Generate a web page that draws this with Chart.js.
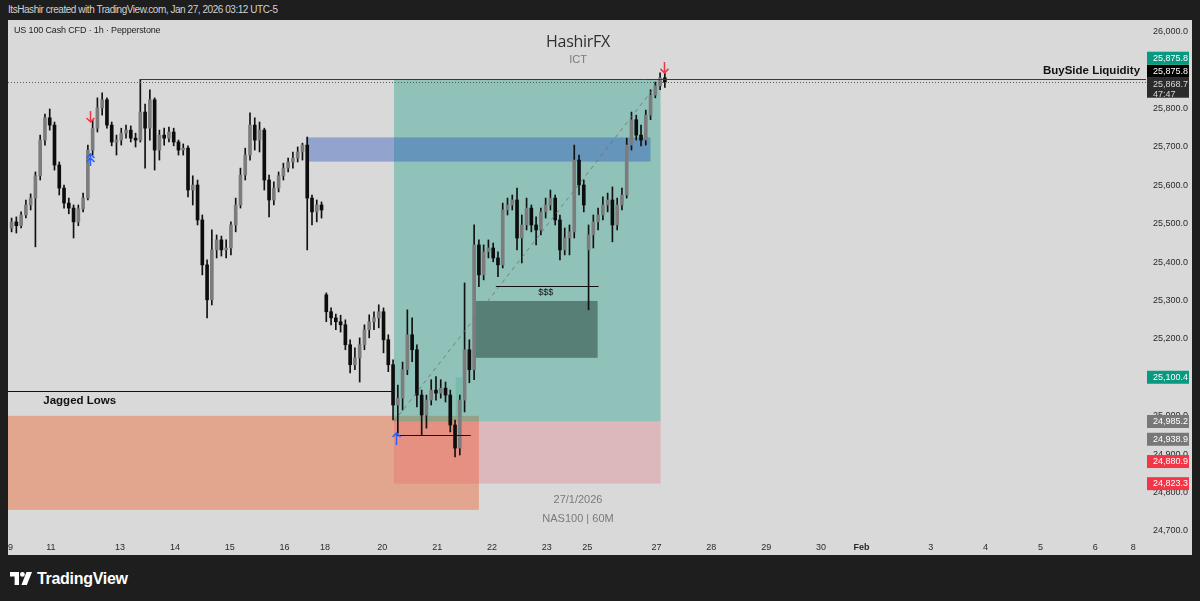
<!DOCTYPE html>
<html lang="en">
<head>
<meta charset="UTF-8">
<title>US 100 Cash CFD - HashirFX</title>
<script src="https://cdn.jsdelivr.net/npm/chart.js"></script>
<style>
  body { margin: 0; width: 1200px; height: 601px; background: #1e1e1e; overflow: hidden; position: relative;
         font-family: "Liberation Sans", Arial, sans-serif; }
  #top { position: absolute; left: 8px; top: 4px; color: #d2d2d2; font-size: 10px; letter-spacing: -0.45px; }
  #panel { position: absolute; left: 8px; top: 20px; width: 1184px; height: 535px; background: #d9d9d9; }
  #symbol { position: absolute; left: 6px; top: 5px; font-size: 9px; letter-spacing: -0.15px; color: #1e1e1e; z-index: 2; }
  .wm { position: absolute; left: 420px; width: 300px; text-align: center; color: #7a7a7a; font-size: 11px; }
  #title { top: 10px; font-size: 16px; color: #2f2f2f; font-family: "Open Sans", sans-serif; letter-spacing: -0.3px; }
  #footer { position: absolute; left: 10px; top: 570px; color: #fff; font-size: 16px; font-weight: bold;
            letter-spacing: -0.3px; display: flex; align-items: center; gap: 5px; }
  canvas { position: absolute; left: 0; top: 0; }
</style>
</head>
<body>
<div id="top">ItsHashir created with TradingView.com, Jan 27, 2026 03:12 UTC-5</div>
<div id="panel">
  <canvas id="chart" width="1184" height="535"></canvas>
  <div id="symbol">US 100 Cash CFD · 1h · Pepperstone</div>
  <div class="wm" id="title">HashirFX</div>
  <div class="wm" style="top:33px">ICT</div>
  <div class="wm" style="top:473px">27/1/2026</div>
  <div class="wm" style="top:492px">NAS100 | 60M</div>
</div>
<div id="footer">
  <svg width="22" height="14" viewBox="0 0 22 14"><path d="M0 0h9v13H4.6V4.4H0z" fill="#fff"/><circle cx="12.4" cy="2.4" r="2.4" fill="#fff"/><path d="M16.5 0h5.5l-5.2 13h-5.4z" fill="#fff"/></svg>
  <span>TradingView</span>
</div>
<script>
// 2h candles, Jan 9 00:00 -> Jan 27 03:00 (session hours only)
var opens = [25489,25505,25495,25523,25549,25567,25625,25718,25776,25757,
  25653,25593,25554,25541,25505,25539,25567,25692,25749,25802,
  25823,25757,25713,25718,25736,25744,25723,25718,25791,25749,
  25823,25692,25731,25723,25739,25713,25692,25697,25588,25601,
  25510,25393,25302,25432,25458,25432,25437,25497,25549,25627,
  25679,25757,25718,25744,25614,25562,25593,25625,25645,25661,
  25671,25687,25705,25567,25531,25549,25315,25271,25255,25245,
  25237,25185,25133,25151,25185,25224,25245,25255,25271,25198,
  25133,25028,25046,25120,25211,25172,25054,25002,25041,25067,
  25059,25072,25054,24976,24916,25041,25172,25120,25445,25367,
  25427,25437,25411,25393,25536,25549,25562,25463,25497,25541,
  25497,25484,25531,25549,25567,25510,25432,25463,25479,25666,
  25601,25432,25471,25505,25523,25549,25562,25497,25549,25575,
  25705,25771,25731,25718,25783,25835,25859,25880];
var highs = [25515,25518,25531,25562,25578,25635,25731,25786,25799,25765,
  25661,25601,25567,25549,25549,25580,25705,25770,25828,25841,
  25828,25765,25731,25749,25757,25755,25736,25876,25812,25849,
  25828,25744,25749,25752,25749,25718,25708,25703,25625,25614,
  25523,25406,25484,25471,25468,25458,25505,25567,25645,25697,
  25789,25776,25765,25749,25627,25609,25635,25658,25671,25687,
  25700,25710,25726,25575,25562,25557,25320,25281,25265,25262,
  25250,25198,25177,25203,25237,25263,25271,25289,25281,25211,
  25146,25080,25140,25276,25255,25185,25067,25054,25094,25102,
  25094,25088,25067,24989,25054,25346,25198,25497,25458,25445,
  25458,25450,25427,25554,25567,25575,25593,25523,25567,25549,
  25518,25541,25567,25588,25575,25523,25489,25497,25705,25679,
  25614,25497,25523,25541,25570,25580,25596,25567,25593,25723,
  25791,25783,25757,25796,25849,25869,25893,25893];
var lows = [25479,25476,25489,25515,25536,25440,25614,25705,25744,25640,
  25575,25541,25526,25463,25495,25531,25562,25679,25739,25783,
  25749,25703,25679,25705,25723,25713,25700,25713,25645,25718,
  25640,25666,25705,25713,25703,25679,25679,25570,25549,25497,
  25367,25255,25289,25411,25416,25411,25419,25479,25541,25614,
  25666,25692,25687,25588,25518,25549,25583,25614,25635,25645,
  25661,25666,25432,25497,25505,25515,25245,25237,25224,25218,
  25172,25112,25120,25088,25172,25203,25224,25229,25164,25115,
  24989,24955,25015,25107,25141,25023,24950,24968,25028,25041,
  25046,25036,24958,24893,24898,25010,25086,25094,25336,25354,
  25411,25401,25362,25385,25523,25536,25432,25398,25484,25479,
  25445,25471,25515,25536,25497,25406,25419,25419,25463,25575,
  25531,25276,25437,25484,25510,25531,25453,25484,25536,25567,
  25692,25718,25703,25705,25771,25828,25849,25855];
var closes = [25505,25495,25523,25549,25567,25625,25718,25776,25757,25653,
  25593,25554,25541,25505,25539,25567,25692,25749,25802,25823,
  25757,25713,25718,25736,25744,25723,25718,25791,25749,25823,
  25692,25731,25723,25739,25713,25692,25697,25588,25601,25510,
  25393,25302,25432,25458,25432,25437,25497,25549,25627,25679,
  25757,25718,25744,25614,25562,25593,25625,25645,25661,25671,
  25687,25705,25567,25531,25549,25536,25271,25255,25245,25237,
  25185,25133,25151,25185,25224,25245,25255,25271,25198,25133,
  25028,25046,25120,25211,25172,25054,25002,25041,25067,25059,
  25072,25054,24976,24916,25041,25172,25120,25445,25367,25427,
  25437,25411,25393,25536,25549,25562,25463,25497,25541,25497,
  25484,25531,25549,25567,25510,25432,25463,25479,25666,25601,
  25549,25471,25505,25523,25549,25562,25497,25549,25575,25705,
  25771,25731,25718,25783,25835,25859,25880,25868.7];

// time axis: session hour of each day label
var dayHours = [0,17,46,69,92,115,132,156,179,202,225,242,271,294,317,340,357,386,409,432,455,471];
var dayLabels = ['9','11','13','14','15','16','18','20','21','22','23','25','27','28','29','30','Feb','3','4','5','6','8'];
var priceTicks = [24700,24800,24900,25000,25100,25200,25300,25400,25500,25600,25700,25800,25900,26000];

// drawn zones: orange, target, stop, small fvg, blue block, dark block
var zoneStart  = [-1, 160.9, 160.9, 186.8, 124, 194.4];
var zoneEnd    = [196.5, 272.7, 272.7, 189.5, 268.5, 246.3];
var zoneTop    = [25000, 25875.8, 24985.2, 25100.4, 25725, 25299];
var zoneBottom = [24755, 24985.2, 24823.3, 24997, 25662, 25151];
var zoneColors = ['rgba(240,90,30,0.4)', 'rgba(8,153,129,0.35)', 'rgba(242,54,69,0.2)',
                  'rgba(8,153,129,0.18)', 'rgba(41,82,190,0.4)', 'rgba(30,60,50,0.5)'];

// horizontal levels: jagged lows, sweep, $$$, buyside liquidity
var levelPrices = [25064, 24950, 25338, 25875.8];
var levelStart  = [-1, 161.7, 203.6, 54.5];
var levelEnd    = [160.5, 193.1, 246.7, 476.3];

var entryPrice = 24985.2, targetPrice = 25875.8, lastPrice = 25868.7;

var markerHours  = [33.5, 33.5, 161.7, 274.3];
var markerPrices = [25765, 25682, 24955, 25893];
var markerKinds  = ['down', 'up2', 'up', 'down'];

// price scale tags
var tagPrices = [25100.4, 24985.2, 24938.9, 24880.9, 24823.3];
var tagColors = ['#089981', '#787878', '#787878', '#f23645', '#f23645'];

var fmt = function (v) { return v.toLocaleString('en-US', {minimumFractionDigits: 1, maximumFractionDigits: 1}); };

var bodies = opens.map(function (o, k) { return {x: 2 * k + 0.5, y: [o, closes[k]]}; });
var wicks = lows.map(function (l, k) { return {x: 2 * k + 0.5, y: [l, highs[k]]}; });
var bodyColors = opens.map(function (o, k) { return closes[k] >= o ? '#7c7c7c' : '#0d0d0d'; });

var axisFont = '"Liberation Sans", Arial, sans-serif';

var drawings = {
  id: 'drawings',
  beforeDatasetsDraw: function (chart) {
    var ctx = chart.ctx, a = chart.chartArea, x = chart.scales.x, y = chart.scales.y;
    ctx.save();
    ctx.beginPath(); ctx.rect(a.left, a.top, a.width, a.height); ctx.clip();
    for (var i = 0; i < zoneStart.length; i++) {
      var x0 = x.getPixelForValue(zoneStart[i]), x1 = x.getPixelForValue(zoneEnd[i]);
      var y0 = y.getPixelForValue(zoneTop[i]), y1 = y.getPixelForValue(zoneBottom[i]);
      ctx.fillStyle = zoneColors[i];
      ctx.fillRect(x0, y0, x1 - x0, y1 - y0);
    }
    ctx.restore();
  },
  afterDatasetsDraw: function (chart) {
    var ctx = chart.ctx, a = chart.chartArea, x = chart.scales.x, y = chart.scales.y;
    ctx.save();
    ctx.beginPath(); ctx.rect(a.left, a.top, a.width, a.height); ctx.clip();

    // current price line
    var py = Math.round(y.getPixelForValue(lastPrice)) + 0.5;
    ctx.strokeStyle = '#5a5a5a'; ctx.lineWidth = 1; ctx.setLineDash([1, 2]);
    ctx.beginPath(); ctx.moveTo(a.left, py); ctx.lineTo(a.right, py); ctx.stroke();

    // entry -> target dashed
    ctx.strokeStyle = 'rgba(110,110,110,0.8)'; ctx.setLineDash([4, 4]);
    ctx.beginPath();
    ctx.moveTo(x.getPixelForValue(zoneStart[1]), y.getPixelForValue(entryPrice));
    ctx.lineTo(x.getPixelForValue(zoneEnd[1]), y.getPixelForValue(targetPrice));
    ctx.stroke();
    ctx.setLineDash([]);

    // levels
    for (var i = 0; i < levelPrices.length; i++) {
      var ly = Math.round(y.getPixelForValue(levelPrices[i])) + 0.5;
      ctx.strokeStyle = i === 3 ? '#3a3a3a' : '#111';
      ctx.beginPath(); ctx.moveTo(x.getPixelForValue(levelStart[i]), ly); ctx.lineTo(x.getPixelForValue(levelEnd[i]), ly); ctx.stroke();
    }

    // labels
    ctx.fillStyle = '#111'; ctx.textBaseline = 'middle';
    ctx.font = 'bold 11.5px ' + axisFont;
    ctx.textAlign = 'left';
    ctx.fillText('Jagged Lows', x.getPixelForValue(13.8), y.getPixelForValue(25039));
    ctx.textAlign = 'right';
    ctx.fillText('BuySide Liquidity', x.getPixelForValue(473.8), y.getPixelForValue(25898));
    ctx.font = '9px ' + axisFont;
    ctx.textAlign = 'center';
    ctx.fillText('$$$', x.getPixelForValue(224.5), y.getPixelForValue(25322));

    // arrows
    ctx.lineWidth = 1.5;
    for (var m = 0; m < markerHours.length; m++) {
      var mx = Math.round(x.getPixelForValue(markerHours[m])) + 0.5, my = y.getPixelForValue(markerPrices[m]);
      var kind = markerKinds[m];
      ctx.strokeStyle = kind === 'down' ? '#f23645' : '#2962ff';
      ctx.beginPath();
      if (kind === 'down') {
        ctx.moveTo(mx, my - 11); ctx.lineTo(mx, my);
        ctx.moveTo(mx - 4, my - 4); ctx.lineTo(mx, my); ctx.lineTo(mx + 4, my - 4);
      } else {
        ctx.moveTo(mx, my); ctx.lineTo(mx, my + 12);
        ctx.moveTo(mx - 4, my + 4); ctx.lineTo(mx, my); ctx.lineTo(mx + 4, my + 4);
        if (kind === 'up2') { ctx.moveTo(mx - 4, my + 8); ctx.lineTo(mx, my + 4); ctx.lineTo(mx + 4, my + 8); }
      }
      ctx.stroke();
    }
    ctx.restore();
  },
  afterDraw: function (chart) {
    var ctx = chart.ctx, a = chart.chartArea, y = chart.scales.y;
    var left = a.right + 1, w = 42, txt = a.right + 7;
    ctx.save();
    ctx.font = '9px ' + axisFont;
    ctx.textBaseline = 'middle'; ctx.textAlign = 'left';
    function tag(top, h, bg, lines, fg) {
      ctx.fillStyle = bg; ctx.fillRect(left, top, w, h);
      ctx.fillStyle = fg;
      lines.forEach(function (s, i) { ctx.fillText(s, txt, top + 6.5 + i * 10); });
    }
    for (var i = 0; i < tagPrices.length; i++) {
      tag(y.getPixelForValue(tagPrices[i]) - 6.5, 13, tagColors[i], [fmt(tagPrices[i])], '#fff');
    }
    // stacked tags at the top: last price with countdown, buyside level, target
    var dTop = y.getPixelForValue(lastPrice) - 4.5;
    tag(dTop, 20, '#2b2b2b', [fmt(lastPrice), '47:47'], '#d8d8d8');
    tag(dTop - 13, 13, '#000', [fmt(targetPrice)], '#fff');
    tag(dTop - 26, 13, '#089981', [fmt(targetPrice)], '#fff');
    ctx.restore();
  }
};

function noPad(s) { s.paddingLeft = 0; s.paddingRight = 0; s.paddingTop = 0; s.paddingBottom = 0; }

new Chart(document.getElementById('chart').getContext('2d'), {
  type: 'bar',
  data: {
    datasets: [
      { data: wicks, backgroundColor: '#111', barThickness: 1, grouped: false, order: 2 },
      { data: bodies, backgroundColor: bodyColors, borderWidth: 0,
        borderSkipped: false, barThickness: 3, minBarLength: 1, grouped: false, order: 1 }
    ]
  },
  options: {
    responsive: false,
    animation: false,
    layout: { padding: 0 },
    plugins: { legend: { display: false }, tooltip: { enabled: false } },
    scales: {
      x: {
        type: 'linear', offset: false, min: -1.0, max: 476.3,
        grid: { display: false, drawTicks: false }, border: { display: false },
        afterFit: function (s) { s.height = 15; noPad(s); },
        afterBuildTicks: function (s) { s.ticks = dayHours.map(function (h) { return {value: h}; }); },
        ticks: {
          autoSkip: false, maxRotation: 0, padding: 2, color: '#2a2a2a',
          font: function (c) { return { size: 9, family: axisFont, weight: dayLabels[c.index] === 'Feb' ? 'bold' : 'normal' }; },
          callback: function (v, i) { return dayLabels[i]; }
        }
      },
      y: {
        position: 'right', min: 24676.6, max: 26030.7,
        grid: { display: false, drawTicks: false }, border: { display: false },
        afterFit: function (s) { s.width = 46; noPad(s); },
        afterBuildTicks: function (s) { s.ticks = priceTicks.map(function (p) { return {value: p}; }); },
        ticks: { padding: 7, color: '#2a2a2a', font: { size: 9, family: axisFont },
                 callback: function (v) { return fmt(v); } }
      }
    }
  },
  plugins: [drawings]
});
</script>
</body>
</html>
